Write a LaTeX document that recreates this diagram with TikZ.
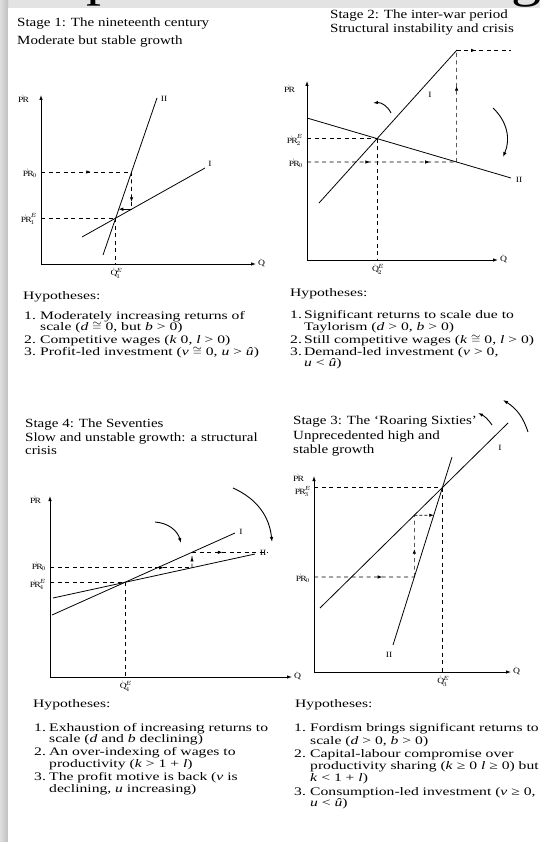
\documentclass[tikz,border=0pt]{standalone}
\usepackage{fontspec}
\setmainfont{Liberation Serif}[FakeStretch=1.2]
\newfontfamily\hypfont{Liberation Serif}[FakeStretch=1.36]
\usetikzlibrary{arrows.meta,decorations.markings,calc}
\begin{document}
\begin{tikzpicture}[x=1pt,y=-1pt,
  title/.style={anchor=base west, inner sep=0pt, font=\fontsize{12.5}{14}\selectfont},
  hyp/.style={anchor=base west, inner sep=0pt, font=\hypfont\fontsize{11.5}{12}\selectfont},
  lbl/.style={inner sep=0pt, font=\fontsize{8}{9}\selectfont},
  axisline/.style={line width=0.8pt, -{Latex[length=5pt,width=3.5pt]}},
  curveline/.style={line width=0.8pt},
  guide/.style={line width=0.7pt, dash pattern=on 4pt off 3.5pt},
  midarr/.style={postaction={decorate, decoration={markings, mark=at position #1 with {\arrow{Latex[length=4.5pt,width=3.5pt]}}}}},
  endarr/.style={-{Latex[length=4.5pt,width=3.5pt]}},
  bentarrow/.style={line width=0.9pt, -{Latex[length=5pt,width=3.5pt]}},
  frag/.style={anchor=base west, inner sep=0pt, font=\fontsize{50}{50}\selectfont}
]
\useasboundingbox (0,0) rectangle (540,842);
\fill[gray!22] (0,0) rectangle (540,842);
\shade[left color=gray!25, right color=gray!50] (0,0) rectangle (8,842);
\fill[white] (8,8) rectangle (540,842);
\node[frag] (fragp) at (86,-4) {p};
\node[frag] (fragg) at (511,-3) {g};

%%%%%%%%%%%%%%%% Stage 1 %%%%%%%%%%%%%%%%
\node[title] (t1a) at (17,27) {Stage 1: The nineteenth century};
\node[title] (t1b) at (17,45) {Moderate but stable growth};
\coordinate (o1) at (41,264);
\coordinate (y1) at (41,95);
\coordinate (x1) at (256,264);
\draw[axisline] (o1) -- (y1);
\draw[axisline] (o1) -- (x1);
\node[lbl] (py1) at (23,99) {$\dot{\mathrm{PR}}$};
\node[lbl,anchor=west] (qx1) at (258,263) {$\dot{\mathrm{Q}}$};
\coordinate (IIa1) at (103,255);
\coordinate (IIb1) at (157,98);
\coordinate (Ia1) at (82,237);
\coordinate (Ib1) at (205,168);
\draw[curveline] (IIa1) -- (IIb1);
\draw[curveline] (Ia1) -- (Ib1);
\node[lbl] (II1) at (164,99) {II};
\node[lbl] (I1) at (210,164) {I};
\coordinate (E1) at (intersection of Ia1--Ib1 and IIa1--IIb1);
\coordinate (pe1) at (E1 -| o1);
\coordinate (qe1) at (E1 |- o1);
\draw[guide] (pe1) -- (E1);
\draw[guide] (E1) -- (qe1);
\node[lbl,anchor=east] (lpe1) at ($(pe1)+(-4,1)$) {$\dot{\mathrm{PR}}^{E}_{1}$};
\node[lbl,anchor=north] (lqe1) at ($(qe1)+(1,4)$) {$\dot{\mathrm{Q}}^{E}_{1}$};
\coordinate (p01) at (41,172);
\coordinate (p01r) at (220,172);
\coordinate (A1) at (intersection of p01--p01r and IIa1--IIb1);
\draw[guide, midarr=0.55] (p01) -- (A1);
\node[lbl,anchor=east] (lp01) at ($(p01)+(-4,1)$) {$\dot{\mathrm{PR}}_{0}$};
\coordinate (A1d) at ($(A1)+(0,80)$);
\coordinate (B1) at (intersection of A1--A1d and Ia1--Ib1);
\draw[guide, midarr=0.8] (A1) -- (B1);
\coordinate (B1l) at ($(B1)+(-80,0)$);
\coordinate (C1) at (intersection of B1--B1l and IIa1--IIb1);
\draw[line width=0.7pt, endarr] (B1) -- (C1);

\node[hyp] (h1) at (23,299) {Hypotheses:};
\node[hyp] (h1n1) at (24,319) {1.};
\node[hyp] (h1t1) at (40,319) {Moderately increasing returns of};
\node[hyp] (h1t1b) at (40,330) {scale (\textit{d} $\cong$ 0, but \textit{b} > 0)};
\node[hyp] (h1n2) at (24,343) {2.};
\node[hyp] (h1t2) at (40,343) {Competitive wages (\textit{k} 0, \textit{l} > 0)};
\node[hyp] (h1n3) at (24,355) {3.};
\node[hyp] (h1t3) at (40,355) {Profit-led investment (\textit{v} $\cong$ 0, \textit{u} > \textit{û})};

%%%%%%%%%%%%%%%% Stage 2 %%%%%%%%%%%%%%%%
\node[title] (t2a) at (330,19) {Stage 2: The inter-war period};
\node[title] (t2b) at (330,33) {Structural instability and crisis};
\coordinate (o2) at (307,260);
\coordinate (y2) at (307,81);
\coordinate (x2) at (498,260);
\draw[axisline] (o2) -- (y2);
\draw[axisline] (o2) -- (x2);
\node[lbl] (py2) at (289,89) {$\dot{\mathrm{PR}}$};
\node[lbl,anchor=west] (qx2) at (500,259) {$\dot{\mathrm{Q}}$};
\coordinate (IIa2) at (307,118);
\coordinate (IIb2) at (511,178);
\coordinate (Ia2) at (319,203);
\coordinate (Ib2) at (457,50);
\draw[curveline] (IIa2) -- (IIb2);
\draw[curveline] (Ia2) -- (Ib2);
\node[lbl] (II2) at (519,180) {II};
\node[lbl] (I2) at (430,95) {I};
\coordinate (E2) at (intersection of Ia2--Ib2 and IIa2--IIb2);
\coordinate (pe2) at (E2 -| o2);
\coordinate (qe2) at (E2 |- o2);
\draw[guide] (pe2) -- (E2);
\draw[guide] (E2) -- (qe2);
\node[lbl,anchor=east] (lpe2) at ($(pe2)+(-4,1)$) {$\dot{\mathrm{PR}}^{E}_{2}$};
\node[lbl,anchor=north] (lqe2) at ($(qe2)+(1,4)$) {$\dot{\mathrm{Q}}^{E}_{2}$};
\coordinate (p02) at (307,162);
\coordinate (p02r) at (530,162);
\coordinate (A2) at (intersection of p02--p02r and IIa2--IIb2);
\draw[guide, midarr=0.42, midarr=0.82] (p02) -- (A2);
\node[lbl,anchor=east] (lp02) at ($(p02)+(-4,1)$) {$\dot{\mathrm{PR}}_{0}$};
\coordinate (A2u) at ($(A2)+(0,-150)$);
\coordinate (B2) at (intersection of A2--A2u and Ia2--Ib2);
\draw[guide, midarr=0.68] (A2) -- (B2);
\coordinate (h2) at (B2 -| IIb2);
\draw[guide, midarr=0.35] (B2) -- (h2);
\coordinate (c2a) at (391,113);
\coordinate (c2b) at (373,103);
\draw[bentarrow] (c2a) to[bend right=35] (c2b);
\coordinate (c2c) at (493,108);
\coordinate (c2d) at (503,157);
\draw[bentarrow] (c2c) to[bend left=35] (c2d);

\node[hyp] (h2) at (290,296) {Hypotheses:};
\node[hyp] (h2n1) at (290,318) {1.};
\node[hyp] (h2t1) at (304,318) {Significant returns to scale due to};
\node[hyp] (h2t1b) at (304,330) {Taylorism (\textit{d} > 0, \textit{b} > 0)};
\node[hyp] (h2n2) at (290,343) {2.};
\node[hyp] (h2t2) at (304,343) {Still competitive wages (\textit{k} $\cong$ 0, \textit{l} > 0)};
\node[hyp] (h2n3) at (290,355) {3.};
\node[hyp] (h2t3) at (304,355) {Demand-led investment (\textit{v} > 0,};
\node[hyp] (h2t3b) at (304,366) {\textit{u} < \textit{û})};

%%%%%%%%%%%%%%%% Stage 4 %%%%%%%%%%%%%%%%
\node[title] (t4a) at (25,427) {Stage 4: The Seventies};
\node[title] (t4b) at (25,441) {Slow and unstable growth: a structural};
\node[title] (t4c) at (25,454) {crisis};
\coordinate (o4) at (50,677);
\coordinate (y4) at (50,496);
\coordinate (x4) at (292,677);
\draw[axisline] (o4) -- (y4);
\draw[axisline] (o4) -- (x4);
\node[lbl] (py4) at (35,500) {$\dot{\mathrm{PR}}$};
\node[lbl,anchor=west] (qx4) at (294,676) {$\dot{\mathrm{Q}}$};
\coordinate (Ia4) at (52,615);
\coordinate (Ib4) at (235,533);
\coordinate (IIa4) at (53,598);
\coordinate (IIb4) at (255,554);
\draw[curveline] (Ia4) -- (Ib4);
\draw[curveline] (IIa4) -- (IIb4);
\node[lbl] (I4) at (241,532) {I};
\node[lbl] (II4) at (263,553) {II};
\coordinate (E4) at (intersection of Ia4--Ib4 and IIa4--IIb4);
\coordinate (pe4) at (E4 -| o4);
\coordinate (qe4) at (E4 |- o4);
\draw[guide] (pe4) -- (E4);
\draw[guide] (E4) -- (qe4);
\node[lbl,anchor=east] (lpe4) at ($(pe4)+(-4,2)$) {$\dot{\mathrm{PR}}^{E}_{4}$};
\node[lbl,anchor=north] (lqe4) at ($(qe4)+(1,4)$) {$\dot{\mathrm{Q}}^{E}_{4}$};
\coordinate (v4a) at (192,500);
\coordinate (v4b) at (192,700);
\coordinate (A4) at (intersection of v4a--v4b and IIa4--IIb4);
\coordinate (p04) at (A4 -| o4);
\draw[guide, midarr=0.8] (p04) -- (A4);
\node[lbl,anchor=east] (lp04) at ($(p04)+(-4,-1)$) {$\dot{\mathrm{PR}}_{0}$};
\coordinate (B4) at (intersection of v4a--v4b and Ia4--Ib4);
\draw[guide, midarr=0.7] (A4) -- (B4);
\coordinate (h4) at ($(B4)+(76,0)$);
\draw[guide, midarr=0.4] (B4) -- (h4);
\coordinate (c4a) at (155,522);
\coordinate (c4b) at (181,543);
\draw[bentarrow] (c4a) to[bend left=35] (c4b);
\coordinate (c4c) at (233,488);
\coordinate (c4d) at (272,542);
\draw[bentarrow] (c4c) to[bend left=30] (c4d);

\node[hyp] (h4) at (33,707) {Hypotheses:};
\node[hyp] (h4n1) at (34,731) {1.};
\node[hyp] (h4t1) at (49,731) {Exhaustion of increasing returns to};
\node[hyp] (h4t1b) at (49,742) {scale (\textit{d} and \textit{b} declining)};
\node[hyp] (h4n2) at (34,755) {2.};
\node[hyp] (h4t2) at (49,755) {An over-indexing of wages to};
\node[hyp] (h4t2b) at (49,767) {productivity (\textit{k} > 1 + \textit{l})};
\node[hyp] (h4n3) at (34,780) {3.};
\node[hyp] (h4t3) at (49,780) {The profit motive is back (\textit{v} is};
\node[hyp] (h4t3b) at (49,792) {declining, \textit{u} increasing)};

%%%%%%%%%%%%%%%% Stage 3 %%%%%%%%%%%%%%%%
\node[title] (t3a) at (293,424) {Stage 3: The ‘Roaring Sixties’};
\node[title] (t3b) at (293,439) {Unprecedented high and};
\node[title] (t3c) at (293,453) {stable growth};
\coordinate (o3) at (314,672);
\coordinate (y3) at (314,476);
\coordinate (x3) at (511,672);
\draw[axisline] (o3) -- (y3);
\draw[axisline] (o3) -- (x3);
\node[lbl] (py3) at (298,478) {$\dot{\mathrm{PR}}$};
\node[lbl,anchor=west] (qx3) at (513,671) {$\dot{\mathrm{Q}}$};
\coordinate (Ia3) at (320,608);
\coordinate (Ib3) at (508,423);
\coordinate (IIa3) at (393,645);
\coordinate (IIb3) at (452,457);
\draw[curveline] (Ia3) -- (Ib3);
\draw[curveline] (IIa3) -- (IIb3);
\node[lbl] (I3) at (500,448) {I};
\node[lbl] (II3) at (389,655) {II};
\coordinate (E3) at (intersection of Ia3--Ib3 and IIa3--IIb3);
\coordinate (pe3) at (E3 -| o3);
\coordinate (qe3) at (E3 |- o3);
\draw[guide] (pe3) -- (E3);
\draw[guide] (E3) -- (qe3);
\node[lbl,anchor=east] (lpe3) at ($(pe3)+(-3,4)$) {$\dot{\mathrm{PR}}^{E}_{3}$};
\node[lbl,anchor=north] (lqe3) at ($(qe3)+(1,4)$) {$\dot{\mathrm{Q}}^{E}_{3}$};
\coordinate (p03) at (314,577);
\coordinate (p03r) at (500,577);
\coordinate (A3) at (intersection of p03--p03r and IIa3--IIb3);
\draw[guide, midarr=0.68] (p03) -- (A3);
\node[lbl,anchor=east] (lp03) at ($(p03)+(-4,1)$) {$\dot{\mathrm{PR}}_{0}$};
\coordinate (A3u) at ($(A3)+(0,-150)$);
\coordinate (B3) at (intersection of A3--A3u and Ia3--Ib3);
\draw[guide, midarr=0.45] (A3) -- (B3);
\coordinate (B3r) at ($(B3)+(80,0)$);
\coordinate (C3) at (intersection of B3--B3r and IIa3--IIb3);
\draw[line width=0.7pt, dash pattern=on 3pt off 2pt, endarr] (B3) -- (C3);
\coordinate (c3a) at (492,425);
\coordinate (c3b) at (478,413);
\draw[bentarrow] (c3a) to[bend right=15] (c3b);
\coordinate (c3c) at (528,432);
\coordinate (c3d) at (503,400);
\draw[bentarrow] (c3c) to[bend right=20] (c3d);

\node[hyp] (h3) at (295,707) {Hypotheses:};
\node[hyp] (h3n1) at (294,731) {1.};
\node[hyp] (h3t1) at (310,731) {Fordism brings significant returns to};
\node[hyp] (h3t1b) at (310,744) {scale (\textit{d} > 0, \textit{b} > 0)};
\node[hyp] (h3n2) at (294,757) {2.};
\node[hyp] (h3t2) at (310,757) {Capital-labour compromise over};
\node[hyp] (h3t2b) at (310,769) {productivity sharing (\textit{k} ≥ 0 \textit{l} ≥ 0) but};
\node[hyp] (h3t2c) at (310,781) {\textit{k} < 1 + \textit{l})};
\node[hyp] (h3n3) at (294,795) {3.};
\node[hyp] (h3t3) at (310,795) {Consumption-led investment (\textit{v} ≥ 0,};
\node[hyp] (h3t3b) at (310,806) {\textit{u} < \textit{û})};
\end{tikzpicture}
\end{document}
